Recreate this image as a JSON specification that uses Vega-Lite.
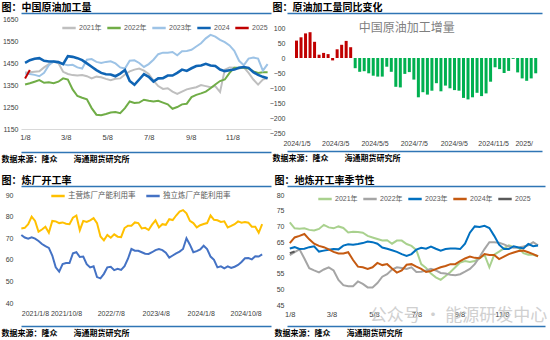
{
  "$schema": "https://vega.github.io/schema/vega-lite/v6.json",
  "padding": {"left": 1, "top": 2, "right": 0, "bottom": 0},
  "background": "white",
  "config": {
    "font": "Liberation Sans, Noto Sans CJK SC",
    "view": {"stroke": null},
    "axis": {"grid": false, "ticks": false, "domain": false, "labelOverlap": false, "labelFontSize": 7.5, "labelColor": "#404040", "labelFont": "Liberation Sans, Noto Sans CJK SC", "titleFont": "Noto Sans CJK SC"},
    "legend": {"labelFontSize": 7, "labelColor": "#595959", "labelFont": "Liberation Sans, Noto Sans CJK SC", "symbolType": "stroke", "symbolStrokeWidth": 2.5, "symbolSize": 180, "labelOffset": 2, "padding": 0}
  },
  "columns": 2,
  "spacing": {"row": 12, "column": -4},
  "resolve": {"scale": {"color": "independent", "x": "independent", "y": "independent"}, "legend": {"color": "independent"}},
  "concat": [
    {
      "width": 250, "height": 110,
      "data": {"values": [
        {"d":"2000-01-08","2021年":1407,"2022年":1352,"2023年":1401,"2024":1451,"2025":1380},
        {"d":"2000-01-15","2021年":1408,"2022年":1358,"2023年":1400,"2024":1463,"2025":1418},
        {"d":"2000-01-22","2021年":1410,"2022年":1365,"2023年":1396,"2024":1469},
        {"d":"2000-01-29","2021年":1412,"2022年":1372,"2023年":1390,"2024":1472},
        {"d":"2000-02-05","2021年":1430,"2022年":1360,"2023年":1405,"2024":1460},
        {"d":"2000-02-12","2021年":1445,"2022年":1362,"2023年":1440,"2024":1457},
        {"d":"2000-02-19","2021年":1455,"2022年":1358,"2023年":1458,"2024":1457},
        {"d":"2000-02-26","2021年":1450,"2022年":1365,"2023年":1452,"2024":1454},
        {"d":"2000-03-04","2021年":1410,"2022年":1380,"2023年":1445,"2024":1445},
        {"d":"2000-03-11","2021年":1400,"2022年":1375,"2023年":1440,"2024":1481},
        {"d":"2000-03-18","2021年":1395,"2022年":1330,"2023年":1442,"2024":1478},
        {"d":"2000-03-25","2021年":1393,"2022年":1300,"2023年":1430,"2024":1472},
        {"d":"2000-04-01","2021年":1395,"2022年":1292,"2023年":1425,"2024":1463},
        {"d":"2000-04-08","2021年":1390,"2022年":1285,"2023年":1465,"2024":1448},
        {"d":"2000-04-15","2021年":1380,"2022年":1245,"2023年":1468,"2024":1433},
        {"d":"2000-04-22","2021年":1388,"2022年":1215,"2023年":1455,"2024":1418},
        {"d":"2000-04-29","2021年":1385,"2022年":1213,"2023年":1450,"2024":1405},
        {"d":"2000-05-06","2021年":1378,"2022年":1218,"2023年":1455,"2024":1399},
        {"d":"2000-05-13","2021年":1372,"2022年":1225,"2023年":1458,"2024":1398},
        {"d":"2000-05-20","2021年":1378,"2022年":1227,"2023年":1448,"2024":1390},
        {"d":"2000-05-27","2021年":1380,"2022年":1222,"2023年":1430,"2024":1402},
        {"d":"2000-06-03","2021年":1398,"2022年":1245,"2023年":1425,"2024":1418},
        {"d":"2000-06-10","2021年":1412,"2022年":1275,"2023年":1460,"2024":1368},
        {"d":"2000-06-17","2021年":1420,"2022年":1268,"2023年":1462,"2024":1351},
        {"d":"2000-06-24","2021年":1425,"2022年":1270,"2023年":1450,"2024":1375},
        {"d":"2000-07-01","2021年":1415,"2022年":1283,"2023年":1432,"2024":1399},
        {"d":"2000-07-08","2021年":1400,"2022年":1278,"2023年":1445,"2024":1387},
        {"d":"2000-07-15","2021年":1370,"2022年":1275,"2023年":1465,"2024":1366},
        {"d":"2000-07-22","2021年":1345,"2022年":1278,"2023年":1490,"2024":1380},
        {"d":"2000-07-29","2021年":1332,"2022年":1270,"2023年":1497,"2024":1381},
        {"d":"2000-08-05","2021年":1335,"2022年":1262,"2023年":1497,"2024":1393},
        {"d":"2000-08-12","2021年":1320,"2022年":1242,"2023年":1500,"2024":1393},
        {"d":"2000-08-19","2021年":1310,"2022年":1250,"2023年":1485,"2024":1405},
        {"d":"2000-08-26","2021年":1320,"2022年":1262,"2023年":1503,"2024":1420},
        {"d":"2000-09-02","2021年":1330,"2022年":1265,"2023年":1505,"2024":1414},
        {"d":"2000-09-09","2021年":1335,"2022年":1295,"2023年":1510,"2024":1426},
        {"d":"2000-09-16","2021年":1340,"2022年":1305,"2023年":1525,"2024":1436},
        {"d":"2000-09-23","2021年":1350,"2022年":1312,"2023年":1540,"2024":1439},
        {"d":"2000-09-30","2021年":1345,"2022年":1320,"2023年":1562,"2024":1446},
        {"d":"2000-10-07","2021年":1340,"2022年":1335,"2023年":1578,"2024":1439},
        {"d":"2000-10-14","2021年":1345,"2022年":1352,"2023年":1570,"2024":1436},
        {"d":"2000-10-21","2021年":1318,"2022年":1368,"2023年":1555,"2024":1420},
        {"d":"2000-10-28","2021年":1420,"2022年":1375,"2023年":1545,"2024":1413},
        {"d":"2000-11-04","2021年":1430,"2022年":1405,"2023年":1530,"2024":1417},
        {"d":"2000-11-11","2021年":1428,"2022年":1428,"2023年":1505,"2024":1420},
        {"d":"2000-11-18","2021年":1425,"2022年":1428,"2023年":1460,"2024":1428},
        {"d":"2000-11-25","2021年":1430,"2022年":1428,"2023年":1440,"2024":1432},
        {"d":"2000-12-02","2021年":1405,"2022年":1425,"2023年":1470,"2024":1428},
        {"d":"2000-12-09","2021年":1375,"2022年":1412,"2023年":1475,"2024":1408},
        {"d":"2000-12-16","2021年":1352,"2022年":1405,"2023年":1470,"2024":1396},
        {"d":"2000-12-23","2021年":1375,"2022年":1408,"2023年":1415,"2024":1387},
        {"d":"2000-12-30","2021年":1382,"2022年":1408,"2023年":1445,"2024":1381}
      ]},
      "layer": [
        {
          "transform": [{"fold": ["2021年","2022年","2023年","2024","2025"], "as": ["s","v"]}, {"filter": "isValid(datum.v)"}],
          "mark": {"type": "line"},
          "encoding": {
            "x": {"field": "d", "type": "temporal",
              "scale": {"type": "utc", "domain": [{"year":2000,"month":1,"date":2,"utc":true},{"year":2001,"month":1,"date":4,"utc":true}]},
              "axis": {"title": null, "format": "%-m/%-d", "domain": true, "domainColor": "#d9d9d9", "labelPadding": 4, "labelOverlap": false,
                "values": [{"year":2000,"month":1,"date":8,"utc":true},{"year":2000,"month":3,"date":8,"utc":true},{"year":2000,"month":5,"date":8,"utc":true},{"year":2000,"month":7,"date":8,"utc":true},{"year":2000,"month":9,"date":8,"utc":true},{"year":2000,"month":11,"date":8,"utc":true}]}},
            "y": {"field": "v", "type": "quantitative", "scale": {"domain": [1150,1650], "nice": false, "zero": false},
              "axis": {"title": null, "format": "d", "values": [1150,1250,1350,1450,1550,1650], "labelPadding": 3, "labelFontSize": 7, "labelOverlap": false}},
            "color": {"field": "s", "type": "nominal",
              "scale": {"domain": ["2021年","2022年","2023年","2024","2025"], "range": ["#bfbfbf","#70ad47","#9dc3e6","#0f64b4","#c00000"]},
              "legend": {"title": null, "orient": "none", "legendX": 40, "legendY": 1, "direction": "horizontal", "columns": 5, "columnPadding": 0}},
            "strokeWidth": {"condition": {"test": "datum.s == '2024'", "value": 2.6}, "value": 2}
          }
        },
        {
          "mark": {"type": "point", "opacity": 0},
          "encoding": {"x": {"field": "d", "type": "temporal",
            "axis": {"orient": "bottom", "offset": 23, "domain": true, "domainColor": "#2f75b5", "domainWidth": 1.5, "labels": false, "ticks": false,
              "title": "数据来源：隆众　　海通期货研究所", "titleAnchor": "start", "titleAlign": "left", "titleX": -20, "titlePadding": 3, "titleFontSize": 8, "titleFontWeight": "bold", "titleColor": "#000000"}},
            "y": {"datum": 1400, "type": "quantitative", "axis": {"title": null, "format": "d", "values": [1150,1250,1350,1450,1550,1650], "labelPadding": 3, "labelFontSize": 7, "labelOverlap": false}}}
        },
        {
          "mark": {"type": "point", "opacity": 0},
          "encoding": {"x": {"field": "d", "type": "temporal",
            "axis": {"orient": "top", "offset": 6, "domain": true, "domainColor": "#2f75b5", "domainWidth": 1.5, "labels": false, "ticks": false,
              "title": "图：中国原油加工量", "titleAnchor": "start", "titleAlign": "left", "titleX": -20, "titlePadding": 1, "titleFontSize": 10, "titleFontWeight": "bold", "titleColor": "#000000"}},
            "y": {"datum": 1400, "type": "quantitative", "axis": {"title": null, "format": "d", "values": [1150,1250,1350,1450,1550,1650], "labelPadding": 3, "labelFontSize": 7, "labelOverlap": false}}}
        }
      ],
      "resolve": {"axis": {"x": "independent"}}
    },
    {
      "width": 255, "height": 114,
      "data": {"values": [
        {"d":"2024-01-05","v":58,"p":"前"},{"d":"2024-01-12","v":69,"p":"前"},{"d":"2024-01-19","v":82,"p":"前"},{"d":"2024-01-26","v":86,"p":"前"},
        {"d":"2024-02-02","v":54,"p":"前"},{"d":"2024-02-09","v":11,"p":"前"},{"d":"2024-02-16","v":17,"p":"前"},{"d":"2024-02-23","v":13,"p":"前"},
        {"d":"2024-03-01","v":-8,"p":"前"},{"d":"2024-03-08","v":29,"p":"前"},{"d":"2024-03-15","v":44,"p":"前"},{"d":"2024-03-22","v":57,"p":"前"},
        {"d":"2024-03-29","v":36,"p":"前"},
        {"d":"2024-04-05","v":-34,"p":"后"},{"d":"2024-04-12","v":-46,"p":"后"},{"d":"2024-04-19","v":-44,"p":"后"},{"d":"2024-04-26","v":-51,"p":"后"},
        {"d":"2024-05-03","v":-59,"p":"后"},{"d":"2024-05-10","v":-62,"p":"后"},{"d":"2024-05-17","v":-62,"p":"后"},{"d":"2024-05-24","v":-29,"p":"后"},
        {"d":"2024-05-31","v":-46,"p":"后"},{"d":"2024-06-07","v":-96,"p":"后"},{"d":"2024-06-14","v":-98,"p":"后"},{"d":"2024-06-21","v":-53,"p":"后"},
        {"d":"2024-06-28","v":-47,"p":"后"},{"d":"2024-07-05","v":-72,"p":"后"},{"d":"2024-07-12","v":-131,"p":"后"},{"d":"2024-07-19","v":-114,"p":"后"},
        {"d":"2024-07-26","v":-122,"p":"后"},{"d":"2024-08-02","v":-109,"p":"后"},{"d":"2024-08-09","v":-84,"p":"后"},{"d":"2024-08-16","v":-111,"p":"后"},
        {"d":"2024-08-23","v":-92,"p":"后"},{"d":"2024-08-30","v":-101,"p":"后"},{"d":"2024-09-06","v":-107,"p":"后"},{"d":"2024-09-13","v":-109,"p":"后"},
        {"d":"2024-09-20","v":-133,"p":"后"},{"d":"2024-09-27","v":-138,"p":"后"},{"d":"2024-10-04","v":-131,"p":"后"},{"d":"2024-10-11","v":-116,"p":"后"},
        {"d":"2024-10-18","v":-127,"p":"后"},{"d":"2024-10-25","v":-118,"p":"后"},{"d":"2024-11-01","v":-79,"p":"后"},{"d":"2024-11-08","v":-31,"p":"后"},
        {"d":"2024-11-15","v":-37,"p":"后"},{"d":"2024-11-22","v":-50,"p":"后"},{"d":"2024-11-29","v":-43,"p":"后"},{"d":"2024-12-06","v":-3,"p":"后"},
        {"d":"2024-12-13","v":-48,"p":"后"},{"d":"2024-12-20","v":-68,"p":"后"},{"d":"2024-12-27","v":-76,"p":"后"},{"d":"2025-01-03","v":-68,"p":"后"},
        {"d":"2025-01-10","v":-51,"p":"后"}
      ]},
      "layer": [
        {
          "mark": {"type": "bar", "width": 3},
          "encoding": {
            "x": {"field": "d", "type": "temporal",
              "scale": {"type": "utc", "domain": [{"year":2023,"month":12,"date":29,"utc":true},{"year":2025,"month":1,"date":12,"utc":true}]},
              "axis": {"title": null, "format": "%Y/%-m/%-d", "labelPadding": 6, "labelOverlap": false, "labelFontSize": 7,
                "labelAlign": {"condition": {"test": "datum.value > 1735000000000", "value": "right"}, "value": "center"},
                "labelExpr": "datum.label == '2025/1/5' ? '2025/' : datum.label",
                "values": [{"year":2024,"month":1,"date":5,"utc":true},{"year":2024,"month":3,"date":5,"utc":true},{"year":2024,"month":5,"date":5,"utc":true},{"year":2024,"month":7,"date":5,"utc":true},{"year":2024,"month":9,"date":5,"utc":true},{"year":2024,"month":11,"date":5,"utc":true},{"year":2025,"month":1,"date":5,"utc":true}]}},
            "y": {"field": "v", "type": "quantitative", "scale": {"domain": [-250,130], "nice": false},
              "axis": {"title": null, "values": [-250,-200,-150,-100,-50,0,50,100], "labelPadding": 2, "labelFontSize": 7, "labelOverlap": false}},
            "color": {"field": "p", "type": "nominal", "scale": {"domain": ["前","后"], "range": ["#c00000","#00b050"]}, "legend": null}
          }
        },
        {
          "data": {"values": [{}]},
          "mark": {"type": "text", "fontSize": 12, "color": "#7f7f7f", "font": "Noto Sans CJK SC", "baseline": "middle"},
          "encoding": {
            "x": {"datum": {"year":2024,"month":6,"date":24,"utc":true}, "type": "temporal", "axis": null},
            "y": {"datum": 100, "type": "quantitative", "axis": {"title": null, "values": [-250,-200,-150,-100,-50,0,50,100], "labelPadding": 2, "labelFontSize": 7, "labelOverlap": false}},
            "text": {"value": "中国原油加工增量"}
          }
        },
        {
          "mark": {"type": "point", "opacity": 0},
          "encoding": {"x": {"field": "d", "type": "temporal",
            "axis": {"orient": "bottom", "offset": 18, "domain": true, "domainColor": "#2f75b5", "domainWidth": 1.5, "labels": false, "ticks": false,
              "title": "数据来源：隆众　　海通期货研究所", "titleAnchor": "start", "titleAlign": "left", "titleX": -15, "titlePadding": 3, "titleFontSize": 8, "titleFontWeight": "bold", "titleColor": "#000000"}},
            "y": {"datum": 0, "type": "quantitative", "axis": {"title": null, "values": [-250,-200,-150,-100,-50,0,50,100], "labelPadding": 2, "labelFontSize": 7, "labelOverlap": false}}}
        },
        {
          "mark": {"type": "point", "opacity": 0},
          "encoding": {"x": {"field": "d", "type": "temporal",
            "axis": {"orient": "top", "offset": 6, "domain": true, "domainColor": "#2f75b5", "domainWidth": 1.5, "labels": false, "ticks": false,
              "title": "图：原油加工量同比变化", "titleAnchor": "start", "titleAlign": "left", "titleX": -15, "titlePadding": 1, "titleFontSize": 10, "titleFontWeight": "bold", "titleColor": "#000000"}},
            "y": {"datum": 0, "type": "quantitative", "axis": {"title": null, "values": [-250,-200,-150,-100,-50,0,50,100], "labelPadding": 2, "labelFontSize": 7, "labelOverlap": false}}}
        }
      ],
      "resolve": {"axis": {"x": "independent"}}
    },
    {
      "width": 250, "height": 108,
      "data": {"values": [
        {"d":"2021-01-08","主营炼厂产能利用率":74.5,"独立炼厂产能利用率":71.5},
        {"d":"2021-01-29","主营炼厂产能利用率":74.8,"独立炼厂产能利用率":70.3},
        {"d":"2021-02-19","主营炼厂产能利用率":76.5,"独立炼厂产能利用率":69.8},
        {"d":"2021-03-12","主营炼厂产能利用率":80,"独立炼厂产能利用率":70.4},
        {"d":"2021-04-02","主营炼厂产能利用率":78,"独立炼厂产能利用率":69.8},
        {"d":"2021-04-23","主营炼厂产能利用率":73,"独立炼厂产能利用率":68.7},
        {"d":"2021-05-14","主营炼厂产能利用率":74,"独立炼厂产能利用率":67.3},
        {"d":"2021-06-04","主营炼厂产能利用率":75.3,"独立炼厂产能利用率":66.3},
        {"d":"2021-06-25","主营炼厂产能利用率":72.5,"独立炼厂产能利用率":65.5},
        {"d":"2021-07-16","主营炼厂产能利用率":78,"独立炼厂产能利用率":62},
        {"d":"2021-08-06","主营炼厂产能利用率":77.8,"独立炼厂产能利用率":56.5},
        {"d":"2021-08-27","主营炼厂产能利用率":77,"独立炼厂产能利用率":54.5},
        {"d":"2021-09-17","主营炼厂产能利用率":77.3,"独立炼厂产能利用率":58},
        {"d":"2021-10-08","主营炼厂产能利用率":76.7,"独立炼厂产能利用率":58.5},
        {"d":"2021-10-29","主营炼厂产能利用率":76.5,"独立炼厂产能利用率":58.5},
        {"d":"2021-11-19","主营炼厂产能利用率":79.5,"独立炼厂产能利用率":63},
        {"d":"2021-12-10","主营炼厂产能利用率":80.5,"独立炼厂产能利用率":63.5},
        {"d":"2021-12-31","主营炼厂产能利用率":73.7,"独立炼厂产能利用率":61.3},
        {"d":"2022-01-21","主营炼厂产能利用率":78,"独立炼厂产能利用率":61.5},
        {"d":"2022-02-11","主营炼厂产能利用率":77.5,"独立炼厂产能利用率":58},
        {"d":"2022-03-04","主营炼厂产能利用率":78.3,"独立炼厂产能利用率":56.5},
        {"d":"2022-03-25","主营炼厂产能利用率":79.3,"独立炼厂产能利用率":57},
        {"d":"2022-04-15","主营炼厂产能利用率":77,"独立炼厂产能利用率":52},
        {"d":"2022-05-06","主营炼厂产能利用率":70.8,"独立炼厂产能利用率":51.4},
        {"d":"2022-05-27","主营炼厂产能利用率":69,"独立炼厂产能利用率":53.5},
        {"d":"2022-06-17","主营炼厂产能利用率":71.5,"独立炼厂产能利用率":56.5},
        {"d":"2022-07-08","主营炼厂产能利用率":70.2,"独立炼厂产能利用率":56.8},
        {"d":"2022-07-29","主营炼厂产能利用率":71.8,"独立炼厂产能利用率":55.2},
        {"d":"2022-08-19","主营炼厂产能利用率":70.7,"独立炼厂产能利用率":55.8},
        {"d":"2022-09-09","主营炼厂产能利用率":70.5,"独立炼厂产能利用率":55.3},
        {"d":"2022-09-30","主营炼厂产能利用率":74.7,"独立炼厂产能利用率":57},
        {"d":"2022-10-21","主营炼厂产能利用率":75.8,"独立炼厂产能利用率":60.5},
        {"d":"2022-11-11","主营炼厂产能利用率":75.8,"独立炼厂产能利用率":65},
        {"d":"2022-12-02","主营炼厂产能利用率":77.3,"独立炼厂产能利用率":64.2},
        {"d":"2022-12-23","主营炼厂产能利用率":77,"独立炼厂产能利用率":64.2},
        {"d":"2023-01-13","主营炼厂产能利用率":74.5,"独立炼厂产能利用率":63.5},
        {"d":"2023-02-03","主营炼厂产能利用率":74.8,"独立炼厂产能利用率":62.8},
        {"d":"2023-02-24","主营炼厂产能利用率":73.8,"独立炼厂产能利用率":62.7},
        {"d":"2023-03-17","主营炼厂产能利用率":76.3,"独立炼厂产能利用率":63.5},
        {"d":"2023-04-07","主营炼厂产能利用率":78.3,"独立炼厂产能利用率":64.5},
        {"d":"2023-04-28","主营炼厂产能利用率":75,"独立炼厂产能利用率":65},
        {"d":"2023-05-19","主营炼厂产能利用率":76.5,"独立炼厂产能利用率":64.5},
        {"d":"2023-06-09","主营炼厂产能利用率":76.2,"独立炼厂产能利用率":63.3},
        {"d":"2023-06-30","主营炼厂产能利用率":78.8,"独立炼厂产能利用率":61},
        {"d":"2023-07-21","主营炼厂产能利用率":78.4,"独立炼厂产能利用率":62},
        {"d":"2023-08-11","主营炼厂产能利用率":80.5,"独立炼厂产能利用率":63},
        {"d":"2023-09-01","主营炼厂产能利用率":82.3,"独立炼厂产能利用率":63.8},
        {"d":"2023-09-22","主营炼厂产能利用率":83,"独立炼厂产能利用率":65},
        {"d":"2023-10-13","主营炼厂产能利用率":81.5,"独立炼厂产能利用率":70},
        {"d":"2023-11-03","主营炼厂产能利用率":78,"独立炼厂产能利用率":67},
        {"d":"2023-11-24","主营炼厂产能利用率":77,"独立炼厂产能利用率":63.5},
        {"d":"2023-12-15","主营炼厂产能利用率":75,"独立炼厂产能利用率":64},
        {"d":"2024-01-05","主营炼厂产能利用率":76,"独立炼厂产能利用率":64.8},
        {"d":"2024-01-26","主营炼厂产能利用率":76.6,"独立炼厂产能利用率":66.5},
        {"d":"2024-02-16","主营炼厂产能利用率":77,"独立炼厂产能利用率":65},
        {"d":"2024-03-08","主营炼厂产能利用率":80.5,"独立炼厂产能利用率":61.5},
        {"d":"2024-03-29","主营炼厂产能利用率":78.5,"独立炼厂产能利用率":60},
        {"d":"2024-04-19","主营炼厂产能利用率":78.3,"独立炼厂产能利用率":56.5},
        {"d":"2024-05-10","主营炼厂产能利用率":77.5,"独立炼厂产能利用率":57},
        {"d":"2024-05-31","主营炼厂产能利用率":77.8,"独立炼厂产能利用率":56},
        {"d":"2024-06-21","主营炼厂产能利用率":75,"独立炼厂产能利用率":57},
        {"d":"2024-07-12","主营炼厂产能利用率":75.7,"独立炼厂产能利用率":56.2},
        {"d":"2024-08-02","主营炼厂产能利用率":76.5,"独立炼厂产能利用率":56.8},
        {"d":"2024-08-23","主营炼厂产能利用率":77.8,"独立炼厂产能利用率":57.6},
        {"d":"2024-09-13","主营炼厂产能利用率":77.2,"独立炼厂产能利用率":59},
        {"d":"2024-10-04","主营炼厂产能利用率":77.5,"独立炼厂产能利用率":60.7},
        {"d":"2024-10-25","主营炼厂产能利用率":77.2,"独立炼厂产能利用率":60.8},
        {"d":"2024-11-15","主营炼厂产能利用率":75.3,"独立炼厂产能利用率":60.2},
        {"d":"2024-12-06","主营炼厂产能利用率":75.3,"独立炼厂产能利用率":61.6},
        {"d":"2024-12-27","主营炼厂产能利用率":72.5,"独立炼厂产能利用率":61.5},
        {"d":"2025-01-17","主营炼厂产能利用率":76.5,"独立炼厂产能利用率":62.5}
      ]},
      "layer": [
        {
          "transform": [{"fold": ["主营炼厂产能利用率","独立炼厂产能利用率"], "as": ["s","v"]}],
          "mark": {"type": "line", "strokeWidth": 2},
          "encoding": {
            "x": {"field": "d", "type": "temporal",
              "scale": {"type": "utc", "domain": [{"year":2021,"month":1,"date":6,"utc":true},{"year":2025,"month":3,"date":12,"utc":true}]},
              "axis": {"title": null, "format": "%Y/%-m/%-d", "labelPadding": 6, "labelOverlap": false, "labelFontSize": 7,
                "values": [{"year":2021,"month":1,"date":8,"utc":true},{"year":2021,"month":10,"date":8,"utc":true},{"year":2022,"month":7,"date":8,"utc":true},{"year":2023,"month":4,"date":8,"utc":true},{"year":2024,"month":1,"date":8,"utc":true},{"year":2024,"month":10,"date":8,"utc":true}]}},
            "y": {"field": "v", "type": "quantitative", "scale": {"domain": [40,90], "nice": false, "zero": false},
              "axis": {"title": null, "values": [40,50,60,70,80,90], "labelPadding": 8, "labelFontSize": 7, "labelOverlap": false}},
            "color": {"field": "s", "type": "nominal",
              "scale": {"domain": ["主营炼厂产能利用率","独立炼厂产能利用率"], "range": ["#ffc000","#4472c4"]},
              "legend": {"title": null, "orient": "none", "legendX": 29, "legendY": -7, "direction": "horizontal", "columns": 2, "columnPadding": 5, "labelFontSize": 7.5}}
          }
        },
        {
          "mark": {"type": "point", "opacity": 0},
          "encoding": {"x": {"field": "d", "type": "temporal",
            "axis": {"orient": "bottom", "offset": 23, "domain": true, "domainColor": "#2f75b5", "domainWidth": 1.5, "labels": false, "ticks": false,
              "title": "数据来源：隆众　　海通期货研究所", "titleAnchor": "start", "titleAlign": "left", "titleX": -20, "titlePadding": 3, "titleFontSize": 8, "titleFontWeight": "bold", "titleColor": "#000000"}},
            "y": {"datum": 60, "type": "quantitative", "axis": {"title": null, "values": [40,50,60,70,80,90], "labelPadding": 8, "labelFontSize": 7, "labelOverlap": false}}}
        },
        {
          "mark": {"type": "point", "opacity": 0},
          "encoding": {"x": {"field": "d", "type": "temporal",
            "axis": {"orient": "top", "offset": 9, "domain": true, "domainColor": "#2f75b5", "domainWidth": 1.5, "labels": false, "ticks": false,
              "title": "图：炼厂开工率", "titleAnchor": "start", "titleAlign": "left", "titleX": -20, "titlePadding": 1, "titleFontSize": 10, "titleFontWeight": "bold", "titleColor": "#000000"}},
            "y": {"datum": 60, "type": "quantitative", "axis": {"title": null, "values": [40,50,60,70,80,90], "labelPadding": 8, "labelFontSize": 7, "labelOverlap": false}}}
        }
      ],
      "resolve": {"axis": {"x": "independent"}}
    },
    {
      "width": 258, "height": 110,
      "data": {"values": [
        {"d":"2000-01-08","2021年":71.3,"2022年":60.9,"2023年":63,"2024年":64.7,"2025":61.5},
        {"d":"2000-01-15","2021年":69.4,"2022年":61.8,"2023年":63.4,"2024年":66.5,"2025":62},
        {"d":"2000-01-22","2021年":69.3,"2022年":62.7,"2023年":62.8,"2024年":67},
        {"d":"2000-01-29","2021年":69.4,"2022年":59.8,"2023年":62.9,"2024年":67.6},
        {"d":"2000-02-05","2021年":68.9,"2022年":56.7,"2023年":63.4,"2024年":65.9},
        {"d":"2000-02-12","2021年":68.7,"2022年":56,"2023年":63.7,"2024年":64.5},
        {"d":"2000-02-19","2021年":69.2,"2022年":55.4,"2023年":62,"2024年":63.8},
        {"d":"2000-02-26","2021年":70.5,"2022年":56.3,"2023年":62.3,"2024年":63.4},
        {"d":"2000-03-04","2021年":69.7,"2022年":57,"2023年":62.6,"2024年":62.7},
        {"d":"2000-03-11","2021年":69.4,"2022年":56,"2023年":62.8,"2024年":61.9},
        {"d":"2000-03-18","2021年":70,"2022年":53,"2023年":62.7,"2024年":61.4},
        {"d":"2000-03-25","2021年":69.5,"2022年":51.3,"2023年":63.9,"2024年":61.4},
        {"d":"2000-04-01","2021年":68.1,"2022年":51,"2023年":64.3,"2024年":61.8},
        {"d":"2000-04-08","2021年":68.3,"2022年":51,"2023年":64.2,"2024年":59.3},
        {"d":"2000-04-15","2021年":68.2,"2022年":52.5,"2023年":64.4,"2024年":57.2},
        {"d":"2000-04-22","2021年":68,"2022年":51.7,"2023年":64.7,"2024年":57},
        {"d":"2000-04-29","2021年":67,"2022年":50.6,"2023年":65.2,"2024年":56.5},
        {"d":"2000-05-06","2021年":66.5,"2022年":50.6,"2023年":65,"2024年":57},
        {"d":"2000-05-13","2021年":66,"2022年":52,"2023年":64.5,"2024年":58.4},
        {"d":"2000-05-20","2021年":65.5,"2022年":54,"2023年":63.3,"2024年":57.7},
        {"d":"2000-05-27","2021年":65.6,"2022年":54.8,"2023年":62.9,"2024年":58},
        {"d":"2000-06-03","2021年":64.5,"2022年":56.3,"2023年":62.4,"2024年":56.6},
        {"d":"2000-06-10","2021年":65.5,"2022年":57,"2023年":61.9,"2024年":55.3},
        {"d":"2000-06-17","2021年":65.5,"2022年":56.8,"2023年":61.2,"2024年":56},
        {"d":"2000-06-24","2021年":64.4,"2022年":56.5,"2023年":60.6,"2024年":57.8},
        {"d":"2000-07-01","2021年":63.8,"2022年":57,"2023年":61.2,"2024年":58},
        {"d":"2000-07-08","2021年":62.5,"2022年":55.5,"2023年":62.6,"2024年":57.2},
        {"d":"2000-07-15","2021年":58,"2022年":55.6,"2023年":63.2,"2024年":56.5},
        {"d":"2000-07-22","2021年":56.8,"2022年":56,"2023年":62.9,"2024年":55.5},
        {"d":"2000-07-29","2021年":55,"2022年":56.5,"2023年":63.6,"2024年":55.8},
        {"d":"2000-08-05","2021年":53.8,"2022年":56,"2023年":62.9,"2024年":56.4},
        {"d":"2000-08-12","2021年":53,"2022年":55.2,"2023年":62.3,"2024年":57},
        {"d":"2000-08-19","2021年":54.2,"2022年":55,"2023年":62.8,"2024年":57.4},
        {"d":"2000-08-26","2021年":55.5,"2022年":54.6,"2023年":63,"2024年":58},
        {"d":"2000-09-02","2021年":57,"2022年":54.5,"2023年":63,"2024年":58},
        {"d":"2000-09-09","2021年":58.5,"2022年":54.8,"2023年":62.8,"2024年":59},
        {"d":"2000-09-16","2021年":59,"2022年":55.6,"2023年":64.5,"2024年":59.8},
        {"d":"2000-09-23","2021年":58.7,"2022年":56.5,"2023年":68,"2024年":60.4},
        {"d":"2000-09-30","2021年":59,"2022年":58,"2023年":70,"2024年":60},
        {"d":"2000-10-07","2021年":59.8,"2022年":60.3,"2023年":69.8,"2024年":59.9},
        {"d":"2000-10-14","2021年":61,"2022年":62.8,"2023年":70.2,"2024年":61.2},
        {"d":"2000-10-21","2021年":57,"2022年":65,"2023年":69.5,"2024年":60.9},
        {"d":"2000-10-28","2021年":61,"2022年":65,"2023年":67,"2024年":60.9},
        {"d":"2000-11-04","2021年":62,"2022年":64.8,"2023年":64.2,"2024年":59.6},
        {"d":"2000-11-11","2021年":63,"2022年":64.3,"2023年":62.8,"2024年":60.4},
        {"d":"2000-11-18","2021年":64,"2022年":63.6,"2023年":62.8,"2024年":61.2},
        {"d":"2000-11-25","2021年":63.5,"2022年":63.2,"2023年":63.7,"2024年":61.7},
        {"d":"2000-12-02","2021年":63.2,"2022年":63.3,"2023年":63.3,"2024年":62.2},
        {"d":"2000-12-09","2021年":61.5,"2022年":63.6,"2023年":63,"2024年":62.3},
        {"d":"2000-12-16","2021年":61,"2022年":64,"2023年":64.4,"2024年":61.8},
        {"d":"2000-12-23","2021年":61,"2022年":65,"2023年":63.7,"2024年":61.2},
        {"d":"2000-12-30","2021年":60.5,"2022年":64,"2023年":63.9,"2024年":60.5}
      ]},
      "layer": [
        {
          "transform": [{"fold": ["2021年","2022年","2023年","2024年","2025"], "as": ["s","v"]}, {"filter": "isValid(datum.v)"}],
          "mark": {"type": "line", "strokeWidth": 2},
          "encoding": {
            "x": {"field": "d", "type": "temporal",
              "scale": {"type": "utc", "domain": [{"year":2000,"month":1,"date":4,"utc":true},{"year":2001,"month":1,"date":9,"utc":true}]},
              "axis": {"title": null, "format": "%-m/%-d", "labelPadding": 5, "labelOverlap": false,
                "values": [{"year":2000,"month":1,"date":8,"utc":true},{"year":2000,"month":3,"date":8,"utc":true},{"year":2000,"month":5,"date":8,"utc":true},{"year":2000,"month":7,"date":8,"utc":true},{"year":2000,"month":9,"date":8,"utc":true},{"year":2000,"month":11,"date":8,"utc":true}]}},
            "y": {"field": "v", "type": "quantitative", "scale": {"domain": [45,80], "nice": false, "zero": false},
              "axis": {"title": null, "values": [45,50,55,60,65,70,75,80], "labelPadding": 3, "labelFontSize": 7, "labelOverlap": false}},
            "color": {"field": "s", "type": "nominal",
              "scale": {"domain": ["2021年","2022年","2023年","2024年","2025"], "range": ["#a9d18e","#a5a5a5","#0070c0","#c55a11","#595959"]},
              "legend": {"title": null, "orient": "none", "legendX": 30, "legendY": -4, "direction": "horizontal", "columns": 5, "columnPadding": 0}}
          }
        },
        {
          "data": {"values": [{}]},
          "mark": {"type": "text", "fontSize": 17, "color": "#c8c8c8", "opacity": 0.85, "font": "Noto Sans CJK SC", "align": "left", "baseline": "middle"},
          "encoding": {
            "x": {"datum": {"year":2000,"month":5,"date":2,"utc":true}, "type": "temporal", "axis": null},
            "y": {"datum": 41.5, "type": "quantitative", "axis": {"title": null, "values": [45,50,55,60,65,70,75,80], "labelPadding": 3, "labelFontSize": 7, "labelOverlap": false}},
            "text": {"value": "公众号 · 能源研发中心"}
          }
        },
        {
          "mark": {"type": "point", "opacity": 0},
          "encoding": {"x": {"field": "d", "type": "temporal",
            "axis": {"orient": "bottom", "offset": 21, "domain": true, "domainColor": "#2f75b5", "domainWidth": 1.5, "labels": false, "ticks": false,
              "title": "数据来源：隆众　　海通期货研究所", "titleAnchor": "start", "titleAlign": "left", "titleX": -13, "titlePadding": 3, "titleFontSize": 8, "titleFontWeight": "bold", "titleColor": "#000000"}},
            "y": {"datum": 60, "type": "quantitative", "axis": {"title": null, "values": [45,50,55,60,65,70,75,80], "labelPadding": 3, "labelFontSize": 7, "labelOverlap": false}}}
        },
        {
          "mark": {"type": "point", "opacity": 0},
          "encoding": {"x": {"field": "d", "type": "temporal",
            "axis": {"orient": "top", "offset": 9, "domain": true, "domainColor": "#2f75b5", "domainWidth": 1.5, "labels": false, "ticks": false,
              "title": "图：地炼开工率季节性", "titleAnchor": "start", "titleAlign": "left", "titleX": -13, "titlePadding": 1, "titleFontSize": 10, "titleFontWeight": "bold", "titleColor": "#000000"}},
            "y": {"datum": 60, "type": "quantitative", "axis": {"title": null, "values": [45,50,55,60,65,70,75,80], "labelPadding": 3, "labelFontSize": 7, "labelOverlap": false}}}
        }
      ],
      "resolve": {"axis": {"x": "independent"}}
    }
  ]
}
